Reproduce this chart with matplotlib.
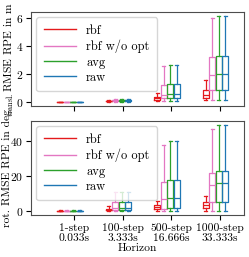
import matplotlib
matplotlib.use("Agg")
import matplotlib.pyplot as plt
import numpy as np

plt.rcParams["font.family"] = "serif"
plt.rcParams["font.serif"] = ["cmr10"]
plt.rcParams["mathtext.fontset"] = "cm"
plt.rcParams["axes.formatter.use_mathtext"] = True
plt.rcParams["font.size"] = 8.3
plt.rcParams["xtick.major.pad"] = 2.5
plt.rcParams["ytick.major.pad"] = 2.0

horizons = ["1-step\n0.033s", "100-step\n3.333s", "500-step\n16.666s", "1000-step\n33.333s"]
methods = ["rbf", "rbf w/o opt", "avg", "raw"]
colors = ["#e41a1c", "#e377c2", "#2ca02c", "#1f77b4"]

# translational RMSE RPE [m]: per method, per horizon (whislo, q1, med, q3, whishi)
transl = {
    "rbf":         [(0.0, 0.005, 0.01, 0.015, 0.02), (0.01, 0.03, 0.05, 0.08, 0.12),
                    (0.05, 0.12, 0.24, 0.36, 0.65), (0.1, 0.29, 0.48, 0.88, 1.6)],
    "rbf w/o opt": [(0.0, 0.005, 0.01, 0.015, 0.02), (0.02, 0.07, 0.1, 0.15, 0.22),
                    (0.05, 0.24, 0.48, 1.2, 2.6), (0.1, 0.88, 1.96, 3.2, 6.0)],
    "avg":         [(0.0, 0.005, 0.01, 0.015, 0.02), (0.02, 0.07, 0.11, 0.15, 0.22),
                    (0.05, 0.26, 0.57, 1.25, 2.65), (0.16, 0.88, 1.99, 3.28, 6.15)],
    "raw":         [(0.0, 0.005, 0.01, 0.015, 0.02), (0.02, 0.07, 0.11, 0.15, 0.22),
                    (0.05, 0.26, 0.57, 1.25, 2.65), (0.16, 0.88, 1.99, 3.28, 6.15)],
}
# rotational RMSE RPE [deg]
rot = {
    "rbf":         [(0.0, 0.05, 0.1, 0.15, 0.2), (0.0, 0.3, 0.6, 1.2, 2.5),
                    (0.0, 1.2, 2.0, 3.2, 5.5), (0.0, 1.5, 3.3, 4.8, 8.7)],
    "rbf w/o opt": [(0.0, 0.05, 0.1, 0.15, 0.2), (0.0, 0.4, 1.8, 4.8, 10.6),
                    (0.0, 1.2, 6.8, 16.8, 38.0), (0.0, 4.8, 14.9, 21.9, 47.0)],
    "avg":         [(0.0, 0.05, 0.1, 0.15, 0.2), (0.0, 0.5, 1.8, 4.8, 11.0),
                    (0.0, 1.5, 7.4, 17.4, 40.0), (0.0, 4.8, 16.0, 22.8, 49.0)],
    "raw":         [(0.0, 0.05, 0.1, 0.15, 0.2), (0.0, 0.5, 1.8, 4.8, 11.0),
                    (0.0, 1.5, 7.4, 17.4, 40.0), (0.0, 4.8, 16.0, 22.8, 49.0)],
}
transl_ticks = [0, 2, 4, 6]
rot_ticks = [0, 20, 40]


def draw(ax, data, yticks):
    x = np.arange(len(horizons))
    for j, m in enumerate(methods):
        stats = [dict(whislo=s[0], q1=s[1], med=s[2], q3=s[3], whishi=s[4], fliers=[])
                 for s in data[m]]
        c = colors[j]
        ax.bxp(stats, positions=x + (j - 2) * 0.135 - 0.02, widths=0.12,
               showfliers=False, manage_ticks=False,
               boxprops=dict(color=c, lw=0.9), medianprops=dict(color=c, lw=0.9),
               whiskerprops=dict(color=c, lw=0.9), capprops=dict(color=c, lw=0.9))
        ax.plot([], [], color=c, lw=1.0, label=m)
    ax.set_xticks(x)
    ax.set_yticks(yticks)
    ax.set_xlim(-0.89, 3.5)
    ax.legend(loc="upper left", fontsize=9, handlelength=2.6, handletextpad=0.8,
              borderpad=0.6, labelspacing=0.25, borderaxespad=0.4)
    for sp in ax.spines.values():
        sp.set_color("0.3")


def main():
    fig, ax = plt.subplots(nrows=2, sharex=True, figsize=(2.49, 2.57), dpi=100)
    draw(ax[0], transl, transl_ticks)
    draw(ax[1], rot, rot_ticks)
    ax[0].set_ylabel(r"${}_{\mathrm{transl.}}$RMSE RPE in m")
    ax[1].set_ylabel("rot. RMSE RPE in deg")
    ax[0].yaxis.set_label_coords(-0.072, 0.5)
    ax[1].yaxis.set_label_coords(-0.092, 0.5)
    ax[1].set_xticklabels(horizons, linespacing=1.05)
    ax[1].set_xlabel("Horizon", labelpad=0)
    plt.subplots_adjust(left=0.125, right=0.98, top=0.953, bottom=0.163, hspace=0.16)
    fig.savefig("out.png", dpi=100)


if __name__ == "__main__":
    main()
